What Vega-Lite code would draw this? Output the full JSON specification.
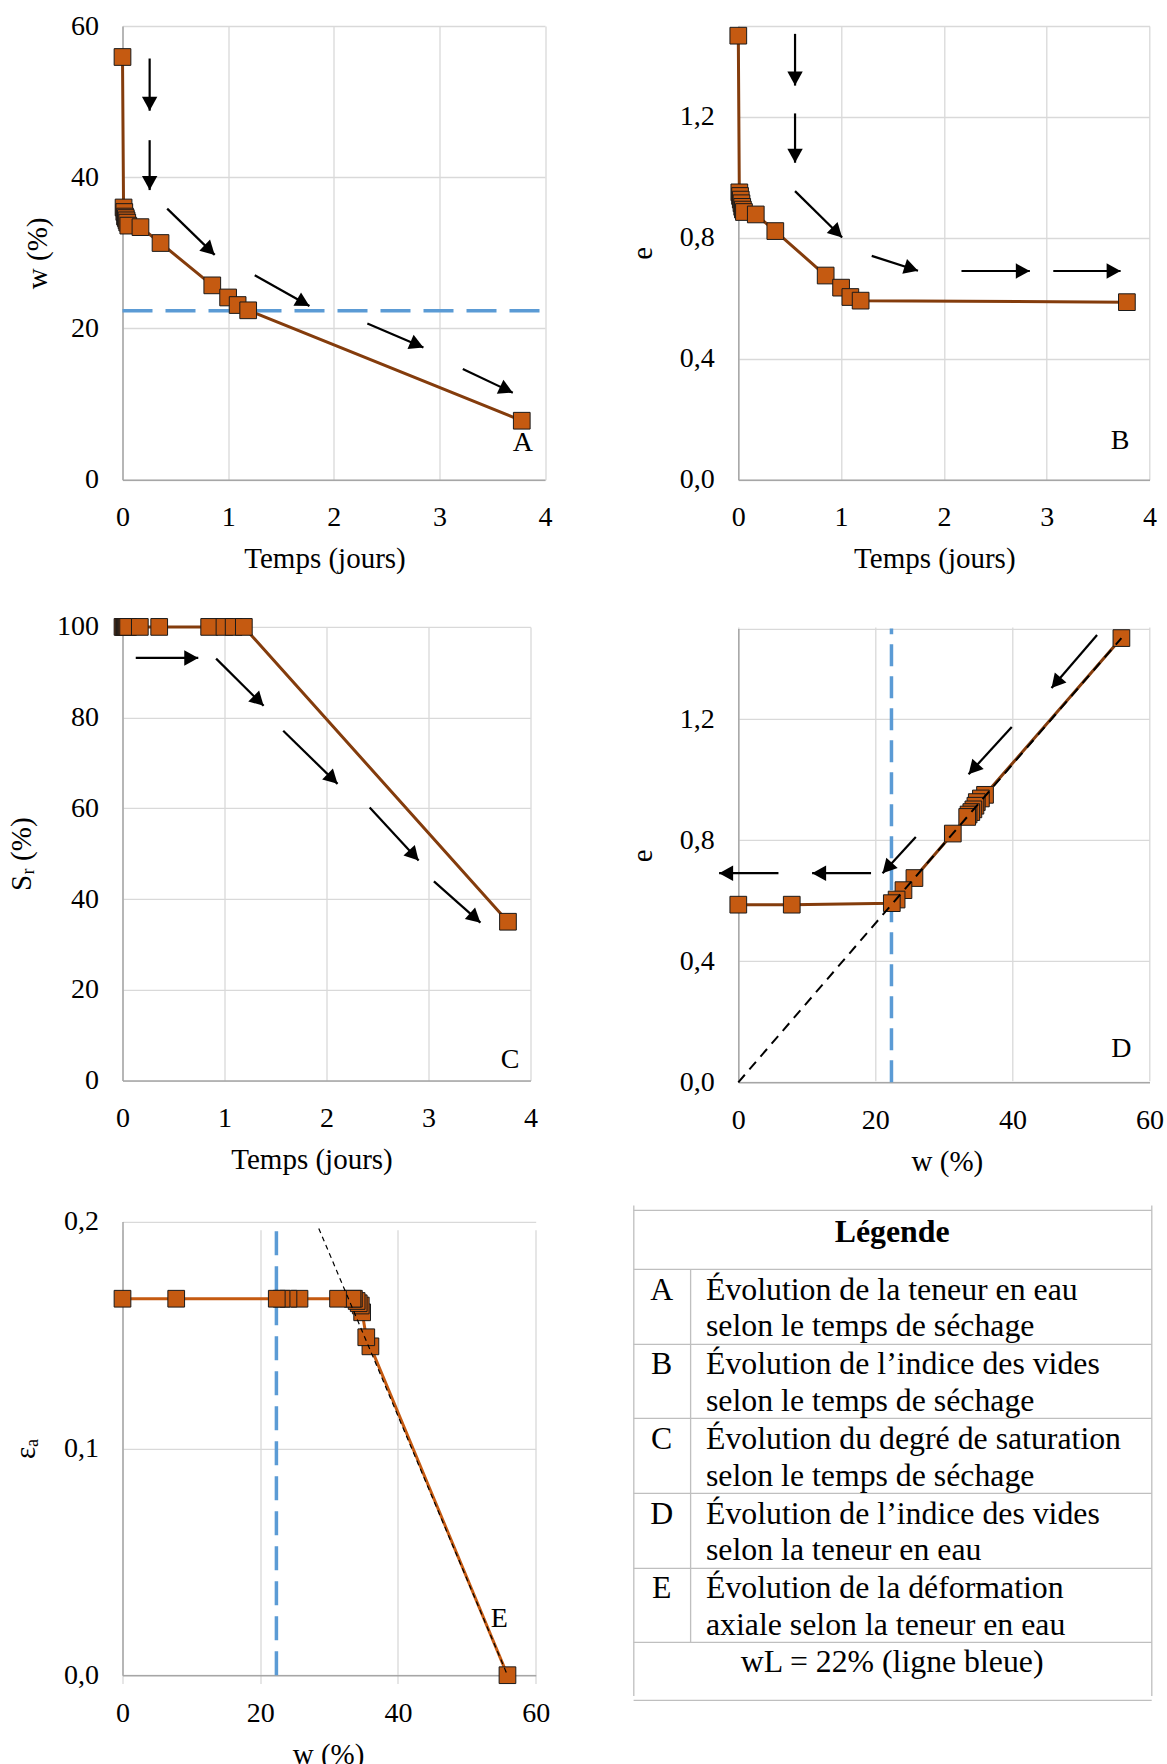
{
  "$schema": "https://vega.github.io/schema/vega-lite/v6.json",
  "autosize": {"type": "none"},
  "padding": {"left": 122.5, "top": 26, "right": 1044.5, "bottom": 1738},
  "background": "white",
  "datasets": {
    "essai": [
      {"t": 0, "w": 55.9, "e": 1.468, "Sr": 100, "eps": 0},
      {"t": 0.010, "w": 36.0, "e": 0.950, "Sr": 100, "eps": 0.145},
      {"t": 0.017, "w": 35.4, "e": 0.938, "Sr": 100, "eps": 0.149},
      {"t": 0.024, "w": 34.8, "e": 0.926, "Sr": 100, "eps": 0.160},
      {"t": 0.031, "w": 34.6, "e": 0.914, "Sr": 100, "eps": 0.163},
      {"t": 0.038, "w": 34.3, "e": 0.902, "Sr": 100, "eps": 0.164},
      {"t": 0.045, "w": 34.0, "e": 0.893, "Sr": 100, "eps": 0.165},
      {"t": 0.055, "w": 33.6, "e": 0.885, "Sr": 100, "eps": 0.166},
      {"t": 0.170, "w": 33.4, "e": 0.877, "Sr": 100, "eps": 0.166},
      {"t": 0.360, "w": 31.3, "e": 0.822, "Sr": 100, "eps": 0.166},
      {"t": 0.850, "w": 25.7, "e": 0.675, "Sr": 100, "eps": 0.166},
      {"t": 1.000, "w": 24.1, "e": 0.635, "Sr": 100, "eps": 0.166},
      {"t": 1.090, "w": 23.1, "e": 0.604, "Sr": 100, "eps": 0.166},
      {"t": 1.190, "w": 22.4, "e": 0.592, "Sr": 100, "eps": 0.166},
      {"t": 3.780, "w": 7.8, "e": 0.587, "Sr": 35.0, "eps": 0.166},
      {"t": null, "w": 0.0, "e": 0.587, "Sr": null, "eps": 0.166}
    ],
    "fleches_A": [
      {"x1": 0.257, "y1": 55.7, "x2": 0.257, "y2": 48.8},
      {"x1": 0.257, "y1": 44.9, "x2": 0.257, "y2": 38.3},
      {"x1": 0.423, "y1": 35.85, "x2": 0.873, "y2": 29.73},
      {"x1": 1.252, "y1": 27.04, "x2": 1.770, "y2": 22.97},
      {"x1": 2.318, "y1": 20.67, "x2": 2.849, "y2": 17.49},
      {"x1": 3.222, "y1": 14.64, "x2": 3.695, "y2": 11.51}
    ],
    "fleches_B": [
      {"x1": 0.552, "y1": 1.474, "x2": 0.552, "y2": 1.303},
      {"x1": 0.552, "y1": 1.211, "x2": 0.552, "y2": 1.048},
      {"x1": 0.552, "y1": 0.954, "x2": 1.010, "y2": 0.801},
      {"x1": 1.298, "y1": 0.740, "x2": 1.748, "y2": 0.691},
      {"x1": 2.171, "y1": 0.690, "x2": 2.836, "y2": 0.690},
      {"x1": 3.064, "y1": 0.690, "x2": 3.719, "y2": 0.690}
    ],
    "fleches_C": [
      {"x1": 0.130, "y1": 93.15, "x2": 0.743, "y2": 93.15},
      {"x1": 0.918, "y1": 93.0, "x2": 1.384, "y2": 82.6},
      {"x1": 1.576, "y1": 77.1, "x2": 2.109, "y2": 65.4},
      {"x1": 2.424, "y1": 60.2, "x2": 2.904, "y2": 48.5},
      {"x1": 3.054, "y1": 43.9, "x2": 3.510, "y2": 34.8}
    ],
    "fleches_D": [
      {"x1": 52.35, "y1": 1.478, "x2": 45.7, "y2": 1.303},
      {"x1": 39.9, "y1": 1.174, "x2": 33.6, "y2": 1.018},
      {"x1": 25.9, "y1": 0.811, "x2": 21.05, "y2": 0.691},
      {"x1": 19.37, "y1": 0.691, "x2": 10.77, "y2": 0.691},
      {"x1": 5.86, "y1": 0.691, "x2": -2.8, "y2": 0.691}
    ],
    "limite": [{"wL": 22.35}],
    "saturation": [{"w": 0, "e": 0}, {"w": 55.9, "e": 1.468}],
    "tendance": [{"w": 28.5, "eps": 0.197}, {"w": 55.9, "eps": 0}],
    "legende": [
      {"rang": 1, "cle": "A", "lignes": ["Évolution de la teneur en eau", "selon le temps de séchage"]},
      {"rang": 2, "cle": "B", "lignes": ["Évolution de l’indice des vides", "selon le temps de séchage"]},
      {"rang": 3, "cle": "C", "lignes": ["Évolution du degré de saturation", "selon le temps de séchage"]},
      {"rang": 4, "cle": "D", "lignes": ["Évolution de l’indice des vides", "selon la teneur en eau"]},
      {"rang": 5, "cle": "E", "lignes": ["Évolution de la déformation", "axiale selon la teneur en eau"]}
    ]
  },
  "columns": 2,
  "bounds": "flush",
  "align": "each",
  "spacing": {"row": 146.9, "column": 192.8},
  "concat": [
    {
      "width": 422.5,
      "height": 453.7,
      "layer": [
        {
          "data": {"name": "limite"},
          "mark": {"type": "rule", "color": "#5B9BD5", "strokeWidth": 3.5, "strokeDash": [30, 13]},
          "encoding": {
            "x": {"datum": 0, "type": "quantitative"},
            "x2": {"datum": 4},
            "y": {"field": "wL", "type": "quantitative", "title": "w (%)"}
          }
        },
        {
          "data": {"name": "essai"},
          "transform": [{"filter": "isValid(datum.t)"}],
          "mark": {"type": "line", "color": "#843C0C", "strokeWidth": 3},
          "encoding": {
            "x": {"field": "t", "type": "quantitative", "title": "Temps (jours)",
              "scale": {"domain": [0, 4], "range": [0, 422.5], "nice": false, "zero": false},
              "axis": {"values": [0, 1, 2, 3, 4], "format": "d", "titleX": 202}},
            "y": {"field": "w", "type": "quantitative", "title": "w (%)",
              "scale": {"domain": [0, 60], "range": [453.7, 0], "nice": false},
              "axis": {"values": [0, 20, 40, 60], "format": "d", "titlePadding": 18}}
          }
        },
        {
          "data": {"name": "essai"},
          "transform": [{"filter": "isValid(datum.t)"}],
          "mark": {"type": "point", "shape": "square", "size": 279, "filled": true, "fill": "#C55A11", "stroke": "#1A1A1A", "strokeWidth": 1, "opacity": 1},
          "encoding": {
            "x": {"field": "t", "type": "quantitative", "title": "Temps (jours)"},
            "y": {"field": "w", "type": "quantitative", "title": "w (%)"}
          }
        },
        {
          "data": {"name": "fleches_A"},
          "mark": {"type": "rule", "color": "#000000", "strokeWidth": 2.2},
          "encoding": {
            "x": {"field": "x1", "type": "quantitative", "title": "Temps (jours)"},
            "y": {"field": "y1", "type": "quantitative", "title": "w (%)"},
            "x2": {"field": "x2"},
            "y2": {"field": "y2"}
          }
        },
        {
          "data": {"name": "fleches_A"},
          "mark": {"type": "point", "shape": "M0,0L-0.55,1L0.55,1Z", "size": 784, "filled": true, "fill": "#000000", "strokeWidth": 0, "opacity": 1,
            "angle": {"expr": "atan2((datum.x2-datum.x1)*105.6,(datum.y2-datum.y1)*7.562)*180/PI"}},
          "encoding": {
            "x": {"field": "x2", "type": "quantitative", "title": "Temps (jours)"},
            "y": {"field": "y2", "type": "quantitative", "title": "w (%)"}
          }
        },
        {
          "data": {"values": [{"lettre": "A"}]},
          "mark": {"type": "text", "font": "Liberation Serif", "fontSize": 28, "color": "#000000", "align": "center", "baseline": "middle"},
          "encoding": {
            "x": {"datum": 3.79},
            "y": {"datum": 4.85},
            "text": {"field": "lettre"}
          }
        }
      ]
    },
    {
      "width": 411.2,
      "height": 453.7,
      "layer": [
        {
          "data": {"name": "essai"},
          "transform": [{"filter": "isValid(datum.t)"}],
          "mark": {"type": "line", "color": "#843C0C", "strokeWidth": 3},
          "encoding": {
            "x": {"field": "t", "type": "quantitative", "title": "Temps (jours)",
              "scale": {"domain": [0, 4], "range": [0, 411.2], "nice": false, "zero": false},
              "axis": {"values": [0, 1, 2, 3, 4], "format": "d", "titleX": 196}},
            "y": {"field": "e", "type": "quantitative", "title": "e",
              "scale": {"domain": [0, 1.5], "range": [453.7, 0], "nice": false},
              "axis": {"values": [0, 0.4, 0.8, 1.2, 1.5], "titlePadding": 22, "labelExpr": "datum.value > 1.4 ? '' : replace(format(datum.value, '.1f'), '.', ',')"}}
          }
        },
        {
          "data": {"name": "essai"},
          "transform": [{"filter": "isValid(datum.t)"}],
          "mark": {"type": "point", "shape": "square", "size": 279, "filled": true, "fill": "#C55A11", "stroke": "#1A1A1A", "strokeWidth": 1, "opacity": 1},
          "encoding": {
            "x": {"field": "t", "type": "quantitative", "title": "Temps (jours)"},
            "y": {"field": "e", "type": "quantitative", "title": "e"}
          }
        },
        {
          "data": {"name": "fleches_B"},
          "mark": {"type": "rule", "color": "#000000", "strokeWidth": 2.2},
          "encoding": {
            "x": {"field": "x1", "type": "quantitative", "title": "Temps (jours)"},
            "y": {"field": "y1", "type": "quantitative", "title": "e"},
            "x2": {"field": "x2"},
            "y2": {"field": "y2"}
          }
        },
        {
          "data": {"name": "fleches_B"},
          "mark": {"type": "point", "shape": "M0,0L-0.55,1L0.55,1Z", "size": 784, "filled": true, "fill": "#000000", "strokeWidth": 0, "opacity": 1,
            "angle": {"expr": "atan2((datum.x2-datum.x1)*102.8,(datum.y2-datum.y1)*302.5)*180/PI"}},
          "encoding": {
            "x": {"field": "x2", "type": "quantitative", "title": "Temps (jours)"},
            "y": {"field": "y2", "type": "quantitative", "title": "e"}
          }
        },
        {
          "data": {"values": [{"lettre": "B"}]},
          "mark": {"type": "text", "font": "Liberation Serif", "fontSize": 28, "color": "#000000", "align": "center", "baseline": "middle"},
          "encoding": {
            "x": {"datum": 3.715},
            "y": {"datum": 0.128},
            "text": {"field": "lettre"}
          }
        }
      ]
    },
    {
      "width": 407.9,
      "height": 453.6,
      "layer": [
        {
          "data": {"name": "essai"},
          "transform": [{"filter": "isValid(datum.t)"}],
          "mark": {"type": "line", "color": "#843C0C", "strokeWidth": 3},
          "encoding": {
            "x": {"field": "t", "type": "quantitative", "title": "Temps (jours)",
              "scale": {"domain": [0, 4], "range": [0, 407.9], "nice": false, "zero": false},
              "axis": {"values": [0, 1, 2, 3, 4], "format": "d", "titleX": 189}},
            "y": {"field": "Sr", "type": "quantitative", "title": "Sᵣ (%)",
              "scale": {"domain": [0, 100], "range": [453.6, 0], "nice": false},
              "axis": {"values": [0, 20, 40, 60, 80, 100], "format": "d", "titlePadding": 20}}
          }
        },
        {
          "data": {"name": "essai"},
          "transform": [{"filter": "isValid(datum.t)"}],
          "mark": {"type": "point", "shape": "square", "size": 279, "filled": true, "fill": "#C55A11", "stroke": "#1A1A1A", "strokeWidth": 1, "opacity": 1},
          "encoding": {
            "x": {"field": "t", "type": "quantitative", "title": "Temps (jours)"},
            "y": {"field": "Sr", "type": "quantitative", "title": "Sᵣ (%)"}
          }
        },
        {
          "data": {"name": "fleches_C"},
          "mark": {"type": "rule", "color": "#000000", "strokeWidth": 2.2},
          "encoding": {
            "x": {"field": "x1", "type": "quantitative", "title": "Temps (jours)"},
            "y": {"field": "y1", "type": "quantitative", "title": "Sᵣ (%)"},
            "x2": {"field": "x2"},
            "y2": {"field": "y2"}
          }
        },
        {
          "data": {"name": "fleches_C"},
          "mark": {"type": "point", "shape": "M0,0L-0.55,1L0.55,1Z", "size": 784, "filled": true, "fill": "#000000", "strokeWidth": 0, "opacity": 1,
            "angle": {"expr": "atan2((datum.x2-datum.x1)*101.98,(datum.y2-datum.y1)*4.536)*180/PI"}},
          "encoding": {
            "x": {"field": "x2", "type": "quantitative", "title": "Temps (jours)"},
            "y": {"field": "y2", "type": "quantitative", "title": "Sᵣ (%)"}
          }
        },
        {
          "data": {"values": [{"lettre": "C"}]},
          "mark": {"type": "text", "font": "Liberation Serif", "fontSize": 28, "color": "#000000", "align": "center", "baseline": "middle"},
          "encoding": {
            "x": {"datum": 3.80},
            "y": {"datum": 4.5},
            "text": {"field": "lettre"}
          }
        }
      ]
    },
    {
      "width": 411.2,
      "height": 455.4,
      "layer": [
        {
          "data": {"name": "limite"},
          "mark": {"type": "rule", "color": "#5B9BD5", "strokeWidth": 3.5, "strokeDash": [22, 10]},
          "encoding": {
            "x": {"field": "wL", "type": "quantitative", "title": "w (%)"},
            "y": {"datum": 0, "type": "quantitative"},
            "y2": {"datum": 1.5}
          }
        },
        {
          "data": {"name": "essai"},
          "mark": {"type": "line", "color": "#843C0C", "strokeWidth": 3},
          "encoding": {
            "x": {"field": "w", "type": "quantitative", "title": "w (%)",
              "scale": {"domain": [0, 60], "range": [0, 411.2], "nice": false, "zero": false},
              "axis": {"values": [0, 20, 40, 60], "format": "d", "titleX": 208.6}},
            "y": {"field": "e", "type": "quantitative", "title": "e",
              "scale": {"domain": [0, 1.5], "range": [455.4, 1.5], "nice": false},
              "axis": {"values": [0, 0.4, 0.8, 1.2, 1.5], "titlePadding": 22, "labelExpr": "datum.value > 1.4 ? '' : replace(format(datum.value, '.1f'), '.', ',')"}}
          }
        },
        {
          "data": {"name": "essai"},
          "mark": {"type": "point", "shape": "square", "size": 279, "filled": true, "fill": "#C55A11", "stroke": "#1A1A1A", "strokeWidth": 1, "opacity": 1},
          "encoding": {
            "x": {"field": "w", "type": "quantitative", "title": "w (%)"},
            "y": {"field": "e", "type": "quantitative", "title": "e"}
          }
        },
        {
          "data": {"name": "saturation"},
          "mark": {"type": "line", "color": "#000000", "strokeWidth": 2, "strokeDash": [10, 7]},
          "encoding": {
            "x": {"field": "w", "type": "quantitative", "title": "w (%)"},
            "y": {"field": "e", "type": "quantitative", "title": "e"}
          }
        },
        {
          "data": {"name": "fleches_D"},
          "mark": {"type": "rule", "color": "#000000", "strokeWidth": 2.2},
          "encoding": {
            "x": {"field": "x1", "type": "quantitative", "title": "w (%)"},
            "y": {"field": "y1", "type": "quantitative", "title": "e"},
            "x2": {"field": "x2"},
            "y2": {"field": "y2"}
          }
        },
        {
          "data": {"name": "fleches_D"},
          "mark": {"type": "point", "shape": "M0,0L-0.55,1L0.55,1Z", "size": 784, "filled": true, "fill": "#000000", "strokeWidth": 0, "opacity": 1,
            "angle": {"expr": "atan2((datum.x2-datum.x1)*6.853,(datum.y2-datum.y1)*302.6)*180/PI"}},
          "encoding": {
            "x": {"field": "x2", "type": "quantitative", "title": "w (%)"},
            "y": {"field": "y2", "type": "quantitative", "title": "e"}
          }
        },
        {
          "data": {"values": [{"lettre": "D"}]},
          "mark": {"type": "text", "font": "Liberation Serif", "fontSize": 28, "color": "#000000", "align": "center", "baseline": "middle"},
          "encoding": {
            "x": {"datum": 55.9},
            "y": {"datum": 0.11},
            "text": {"field": "lettre"}
          }
        }
      ]
    },
    {
      "width": 413.2,
      "height": 445.4,
      "layer": [
        {
          "data": {"name": "limite"},
          "mark": {"type": "rule", "color": "#5B9BD5", "strokeWidth": 3.5, "strokeDash": [24, 11]},
          "encoding": {
            "x": {"field": "wL", "type": "quantitative", "title": "w (%)"},
            "y": {"datum": 0, "type": "quantitative"},
            "y2": {"datum": 0.2}
          }
        },
        {
          "data": {"name": "essai"},
          "mark": {"type": "line", "color": "#C55A11", "strokeWidth": 3},
          "encoding": {
            "x": {"field": "w", "type": "quantitative", "title": "w (%)",
              "scale": {"domain": [0, 60], "range": [0, 413.2], "nice": false, "zero": false},
              "axis": {"values": [0, 20, 40, 60], "format": "d", "titleX": 205.6}},
            "y": {"field": "eps", "type": "quantitative", "title": "εₐ",
              "scale": {"domain": [0, 0.2], "range": [445.4, -8.2], "nice": false},
              "axis": {"values": [0, 0.1, 0.2], "titlePadding": 23, "labelExpr": "replace(format(datum.value, '.1f'), '.', ',')"}}
          }
        },
        {
          "data": {"name": "essai"},
          "mark": {"type": "point", "shape": "square", "size": 279, "filled": true, "fill": "#C55A11", "stroke": "#1A1A1A", "strokeWidth": 1, "opacity": 1},
          "encoding": {
            "x": {"field": "w", "type": "quantitative", "title": "w (%)"},
            "y": {"field": "eps", "type": "quantitative", "title": "εₐ"}
          }
        },
        {
          "data": {"name": "tendance"},
          "mark": {"type": "line", "color": "#000000", "strokeWidth": 1.2, "strokeDash": [5, 4]},
          "encoding": {
            "x": {"field": "w", "type": "quantitative", "title": "w (%)"},
            "y": {"field": "eps", "type": "quantitative", "title": "εₐ"}
          }
        },
        {
          "data": {"values": [{"lettre": "E"}]},
          "mark": {"type": "text", "font": "Liberation Serif", "fontSize": 28, "color": "#000000", "align": "center", "baseline": "middle"},
          "encoding": {
            "x": {"datum": 54.7},
            "y": {"datum": 0.025},
            "text": {"field": "lettre"}
          }
        }
      ]
    },
    {
      "width": 411.2,
      "height": 445.4,
      "layer": [
        {
          "data": {"values": [{"rang": 0, "texte": "Légende"}]},
          "mark": {"type": "text", "font": "Liberation Serif", "fontSize": 31.8, "fontWeight": "bold", "color": "#000000", "align": "center", "baseline": "middle"},
          "encoding": {
            "x": {"datum": 50, "type": "quantitative",
              "scale": {"domain": [0, 100], "range": [-105.2, 412.9], "nice": false, "zero": false},
              "axis": {"values": [0, 100], "grid": true, "gridColor": "#BFBFBF", "gridWidth": 1.3, "labels": false, "domain": false, "ticks": false, "title": null}},
            "y": {"field": "rang", "type": "quantitative",
              "scale": {"domain": [-0.3, 6.279], "range": [-20.3, 470.2], "nice": false, "zero": false},
              "axis": {"values": [-0.3, 0.5, 1.5, 2.5, 3.5, 4.5, 5.5, 6.279], "grid": true, "gridColor": "#BFBFBF", "gridWidth": 1.3, "labels": false, "domain": false, "ticks": false, "title": null}},
            "text": {"field": "texte"}
          }
        },
        {
          "data": {"values": [{"rang": 0.5}]},
          "mark": {"type": "rule", "color": "#BFBFBF", "strokeWidth": 1.3},
          "encoding": {
            "x": {"datum": 11.1},
            "y": {"field": "rang", "type": "quantitative", "title": null},
            "y2": {"datum": 5.5}
          }
        },
        {
          "data": {"name": "legende"},
          "mark": {"type": "text", "font": "Liberation Serif", "fontSize": 31.8, "color": "#000000", "align": "center", "baseline": "middle", "dy": -16.5},
          "encoding": {
            "x": {"datum": 5.52},
            "y": {"field": "rang", "type": "quantitative", "title": null},
            "text": {"field": "cle"}
          }
        },
        {
          "data": {"name": "legende"},
          "mark": {"type": "text", "font": "Liberation Serif", "fontSize": 31.8, "color": "#000000", "align": "left", "baseline": "middle", "lineHeight": 36.5, "dy": -16.5},
          "encoding": {
            "x": {"datum": 14.07},
            "y": {"field": "rang", "type": "quantitative", "title": null},
            "text": {"field": "lignes"}
          }
        },
        {
          "data": {"values": [{"rang": 6, "texte": "wL = 22% (ligne bleue)"}]},
          "mark": {"type": "text", "font": "Liberation Serif", "fontSize": 31.8, "color": "#000000", "align": "center", "baseline": "middle", "dy": -17.6},
          "encoding": {
            "x": {"datum": 50},
            "y": {"field": "rang", "type": "quantitative", "title": null},
            "text": {"field": "texte"}
          }
        }
      ]
    }
  ],
  "config": {
    "view": {"stroke": null},
    "font": "Liberation Serif",
    "style": {
      "guide-label": {"font": "Liberation Serif", "fontSize": 28, "fill": "#000000"},
      "guide-title": {"font": "Liberation Serif", "fontSize": 29, "fill": "#000000", "fontWeight": "normal"}
    },
    "axis": {
      "labelFont": "Liberation Serif", "labelFontSize": 28, "labelColor": "#000000",
      "titleFont": "Liberation Serif", "titleFontSize": 29, "titleFontWeight": "normal", "titleColor": "#000000",
      "ticks": false, "tickSize": 0, "domainColor": "#A6A6A6", "domainWidth": 1.5,
      "grid": true, "gridColor": "#D9D9D9", "gridWidth": 1.3,
      "labelPadding": 24, "labelFlush": false, "labelOverlap": false
    },
    "axisX": {"titlePadding": 13},
    "axisY": {"titlePadding": 18}
  }
}
